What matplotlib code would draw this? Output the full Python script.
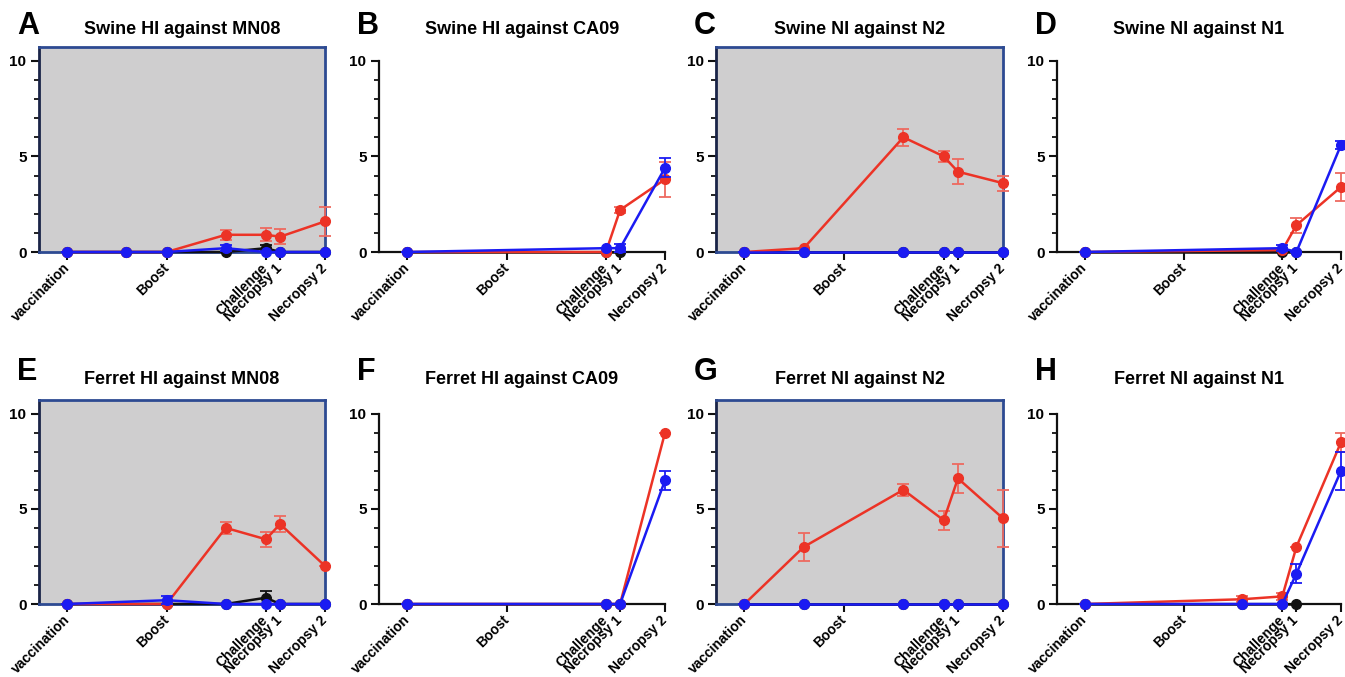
import matplotlib.pyplot as plt
from matplotlib.ticker import MultipleLocator

W, H = 1345, 677
FONT = "Liberation Sans"

RED = "#EC3326"
BLUE = "#1B1BF2"
BLACK = "#111111"
GRAY_FILL = "#CFCECF"
NAVY = "#2D4A92"

# x positions (days) of the time points and their labels
TICK_POS = [0, 21, 42, 45, 54.5]
TICK_LABELS = ["vaccination", "Boost", "Challenge", "Necropsy 1", "Necropsy 2"]

# A  Swine HI against MN08
A_X = [0, 12.5, 21, 33.5, 42, 45, 54.5]
A_BLACK = [0, 0, 0, 0, 0.2, 0, 0]
A_BLACK_ERR = [0, 0, 0, 0, 0.15, 0, 0]
A_RED = [0, 0, 0, 0.9, 0.9, 0.8, 1.6]
A_RED_ERR = [0, 0, 0, 0.25, 0.35, 0.4, 0.75]
A_BLUE = [0, 0, 0, 0.2, 0, 0, 0]
A_BLUE_ERR = [0, 0, 0, 0.15, 0, 0, 0]

# B  Swine HI against CA09
B_X = [0, 42, 45, 54.5]
B_BLACK = [0, 0, 0]
B_BLACK_ERR = [0, 0, 0]
B_RED = [0, 0, 2.2, 3.8]
B_RED_ERR = [0, 0, 0.15, 0.9]
B_BLUE = [0, 0.2, 0.2, 4.4]
B_BLUE_ERR = [0, 0, 0.2, 0.5]

# C  Swine NI against N2
C_X = [0, 12.5, 33.5, 42, 45, 54.5]
C_BLACK = [0, 0, 0, 0, 0, 0]
C_BLACK_ERR = [0, 0, 0, 0, 0, 0]
C_RED = [0, 0.2, 6.0, 5.0, 4.2, 3.6]
C_RED_ERR = [0, 0, 0.45, 0.3, 0.65, 0.4]
C_BLUE = [0, 0, 0, 0, 0, 0]
C_BLUE_ERR = [0, 0, 0, 0, 0, 0]

# D  Swine NI against N1
D_X = [0, 42, 45, 54.5]
D_BLACK = [0, 0, 0]
D_BLACK_ERR = [0, 0, 0]
D_RED = [0, 0.1, 1.4, 3.4]
D_RED_ERR = [0, 0, 0.4, 0.75]
D_BLUE = [0, 0.2, 0, 5.6]
D_BLUE_ERR = [0, 0.15, 0, 0.2]

# E  Ferret HI against MN08
E_X = [0, 21, 33.5, 42, 45, 54.5]
E_BLACK = [0, 0, 0, 0.33, 0, 0]
E_BLACK_ERR = [0, 0, 0, 0.33, 0, 0]
E_RED = [0, 0, 4.0, 3.4, 4.2, 2.0]
E_RED_ERR = [0, 0, 0.3, 0.4, 0.4, 0]
E_BLUE = [0, 0.2, 0, 0, 0, 0]
E_BLUE_ERR = [0, 0.2, 0, 0, 0, 0]

# F  Ferret HI against CA09
F_X = [0, 42, 45, 54.5]
F_BLACK = [0, 0, 0]
F_BLACK_ERR = [0, 0, 0]
F_RED = [0, 0, 0, 9.0]
F_RED_ERR = [0, 0, 0, 0]
F_BLUE = [0, 0, 0, 6.5]
F_BLUE_ERR = [0, 0, 0, 0.5]

# G  Ferret NI against N2
G_X = [0, 12.5, 33.5, 42, 45, 54.5]
G_BLACK = [0, 0, 0, 0, 0, 0]
G_BLACK_ERR = [0, 0, 0, 0, 0, 0]
G_RED = [0, 3.0, 6.0, 4.4, 6.6, 4.5]
G_RED_ERR = [0, 0.75, 0.3, 0.5, 0.75, 1.5]
G_BLUE = [0, 0, 0, 0, 0, 0]
G_BLUE_ERR = [0, 0, 0, 0, 0, 0]

# H  Ferret NI against N1
H_X = [0, 33.5, 42, 45, 54.5]
H_BLACK = [0, 0, 0, 0]
H_BLACK_ERR = [0, 0, 0, 0]
H_RED = [0, 0.25, 0.4, 3.0, 8.5]
H_RED_ERR = [0, 0.15, 0.2, 0, 0.5]
H_BLUE = [0, 0, 0, 1.6, 7.0]
H_BLUE_ERR = [0, 0, 0, 0.5, 1.0]

PANELS = [
    ("A", "Swine HI against MN08", True, A_X, A_BLACK, A_BLACK_ERR, A_RED, A_RED_ERR, A_BLUE, A_BLUE_ERR),
    ("B", "Swine HI against CA09", False, B_X, B_BLACK, B_BLACK_ERR, B_RED, B_RED_ERR, B_BLUE, B_BLUE_ERR),
    ("C", "Swine NI against N2", True, C_X, C_BLACK, C_BLACK_ERR, C_RED, C_RED_ERR, C_BLUE, C_BLUE_ERR),
    ("D", "Swine NI against N1", False, D_X, D_BLACK, D_BLACK_ERR, D_RED, D_RED_ERR, D_BLUE, D_BLUE_ERR),
    ("E", "Ferret HI against MN08", True, E_X, E_BLACK, E_BLACK_ERR, E_RED, E_RED_ERR, E_BLUE, E_BLUE_ERR),
    ("F", "Ferret HI against CA09", False, F_X, F_BLACK, F_BLACK_ERR, F_RED, F_RED_ERR, F_BLUE, F_BLUE_ERR),
    ("G", "Ferret NI against N2", True, G_X, G_BLACK, G_BLACK_ERR, G_RED, G_RED_ERR, G_BLUE, G_BLUE_ERR),
    ("H", "Ferret NI against N1", False, H_X, H_BLACK, H_BLACK_ERR, H_RED, H_RED_ERR, H_BLUE, H_BLUE_ERR),
]

# pixel boxes: left, right for each column; top, bottom (y=0 line) for each row
COL_LR = [(39, 325), (379, 665), (716, 1003), (1057, 1341)]
ROW_TB = [(47, 252), (400, 604)]
TITLE_Y = [29, 380]
LETTER_Y = [26, 372]

XMIN, XMAX = -6.0, 54.5
YMAX = 10.72


def draw_series(ax, x, y, err, color, ecolor, z):
    n = len(y)
    ax.errorbar(x[:n], y, yerr=err, color=color, ecolor=ecolor, elinewidth=1.3,
                capsize=4, capthick=1.3, linewidth=1.8, marker="o", markersize=7,
                clip_on=False, zorder=z)


def main():
    plt.rcParams.update({"font.family": FONT, "font.weight": "bold"})
    fig = plt.figure(figsize=(W / 100, H / 100), dpi=100)

    for i, (letter, title, boxed, x, bk, bke, rd, rde, bl, ble) in enumerate(PANELS):
        row, col = divmod(i, 4)
        left, right = COL_LR[col]
        top, bottom = ROW_TB[row]
        ax = fig.add_axes([left / W, 1 - bottom / H, (right - left) / W, (bottom - top) / H])

        draw_series(ax, x, bk, bke, BLACK, BLACK, 3)
        draw_series(ax, x, rd, rde, RED, "#EE6A60", 4)
        draw_series(ax, x, bl, ble, BLUE, BLUE, 5)

        ax.set_xlim(XMIN, XMAX)
        ax.set_ylim(0, YMAX)
        ax.set_xticks(TICK_POS)
        ax.set_xticklabels(TICK_LABELS, rotation=45, ha="right", va="center",
                           rotation_mode="anchor", fontsize=10, fontweight="bold")
        ax.set_yticks([0, 5, 10])
        ax.yaxis.set_minor_locator(MultipleLocator(1))
        for lab in ax.get_yticklabels():
            lab.set_fontsize(11)
            lab.set_fontweight("bold")
        ax.tick_params(axis="both", which="major", direction="out", length=6, width=1.5,
                       color=BLACK, pad=3)
        ax.tick_params(axis="x", which="major", pad=4)
        ax.tick_params(axis="y", which="minor", direction="out", length=3.5, width=1.3, color=BLACK)
        ax.tick_params(axis="x", which="minor", length=0)

        if boxed:
            ax.set_facecolor(GRAY_FILL)
            for side in ["top", "right", "bottom", "left"]:
                ax.spines[side].set_color(NAVY)
                ax.spines[side].set_linewidth(2.0)
            ax.spines["left"].set_color("#1A2448")
        else:
            ax.set_facecolor("none")
            ax.spines["top"].set_visible(False)
            ax.spines["right"].set_visible(False)
            ax.spines["left"].set_bounds(0, 10)
            for side in ["left", "bottom"]:
                ax.spines[side].set_color(BLACK)
                ax.spines[side].set_linewidth(1.6)

        cx = (left + right) / 2
        fig.text(cx / W, 1 - TITLE_Y[row] / H, title, ha="center", va="center",
                 fontsize=13, fontweight="bold")
        fig.text((left - 22) / W, 1 - LETTER_Y[row] / H, letter, ha="left", va="center",
                 fontsize=22, fontweight="bold")

    fig.savefig("out.png", dpi=100)
    plt.close(fig)


if __name__ == "__main__":
    main()
